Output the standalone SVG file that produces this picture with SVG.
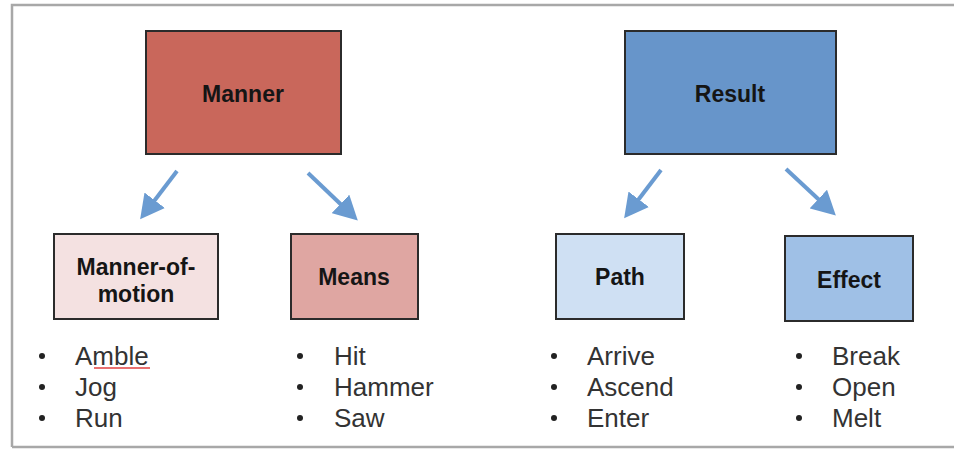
<svg xmlns="http://www.w3.org/2000/svg" width="954" height="450" viewBox="0 0 954 450">
<style>
.box{stroke:#2b2b2b;stroke-width:2}
.lbl{font-family:"Liberation Sans",Arial,sans-serif;font-weight:bold;font-size:23px;fill:#151515;text-anchor:middle}
.item{font-family:"Liberation Sans",Arial,sans-serif;font-size:26px;fill:#333}
.bul{fill:#222}
.arr{stroke:#6a9bd1;stroke-width:4;fill:none;marker-end:url(#ah)}
</style>
<defs>
<marker id="ah" markerWidth="6" markerHeight="6.4" refX="4" refY="3.2" orient="auto" markerUnits="strokeWidth">
<path d="M0,0 L6,3.2 L0,6.4 Z" fill="#6a9bd1"/>
</marker>
</defs>
<rect x="0" y="0" width="954" height="450" fill="#fff"/>
<path d="M12,447 L12,5 L960,5 M12,447 L960,447" fill="none" stroke="#a8a8a8" stroke-width="2.5"/>
<g id="manner">
<rect class="box" x="146" y="31" width="195" height="123" fill="#c9675b"/>
<text class="lbl" x="243" y="102">Manner</text>
</g>
<g id="result">
<rect class="box" x="625" y="31" width="211" height="123" fill="#6795ca"/>
<text class="lbl" x="730" y="102">Result</text>
</g>
<g id="manner-of-motion">
<rect class="box" x="54" y="234" width="164" height="85" fill="#f4e1e1"/>
<text class="lbl" x="136" y="275">Manner-of-</text>
<text class="lbl" x="136" y="302">motion</text>
<circle class="bul" cx="42" cy="356" r="3"/><text class="item" x="75" y="365">Amble</text>
<path d="M94,368 L150,368" fill="none" stroke="#e04040" stroke-width="1.6"/>
<circle class="bul" cx="42" cy="387" r="3"/><text class="item" x="75" y="396">Jog</text>
<circle class="bul" cx="42" cy="418" r="3"/><text class="item" x="75" y="427">Run</text>
</g>
<g id="means">
<rect class="box" x="291" y="234" width="127" height="85" fill="#dfa6a2"/>
<text class="lbl" x="354" y="285">Means</text>
<circle class="bul" cx="300" cy="356" r="3"/><text class="item" x="334" y="365">Hit</text>
<circle class="bul" cx="300" cy="387" r="3"/><text class="item" x="334" y="396">Hammer</text>
<circle class="bul" cx="300" cy="418" r="3"/><text class="item" x="334" y="427">Saw</text>
</g>
<g id="path">
<rect class="box" x="556" y="234" width="128" height="85" fill="#cfe0f3"/>
<text class="lbl" x="620" y="285">Path</text>
<circle class="bul" cx="554" cy="356" r="3"/><text class="item" x="587" y="365">Arrive</text>
<circle class="bul" cx="554" cy="387" r="3"/><text class="item" x="587" y="396">Ascend</text>
<circle class="bul" cx="554" cy="418" r="3"/><text class="item" x="587" y="427">Enter</text>
</g>
<g id="effect">
<rect class="box" x="785" y="236" width="128" height="85" fill="#9fc0e6"/>
<text class="lbl" x="849" y="288">Effect</text>
<circle class="bul" cx="799" cy="356" r="3"/><text class="item" x="832" y="365">Break</text>
<circle class="bul" cx="799" cy="387" r="3"/><text class="item" x="832" y="396">Open</text>
<circle class="bul" cx="799" cy="418" r="3"/><text class="item" x="832" y="427">Melt</text>
</g>
<g id="connectors">
<line class="arr" x1="177" y1="171" x2="145" y2="213"/>
<line class="arr" x1="308" y1="173" x2="352" y2="215"/>
<line class="arr" x1="661" y1="170" x2="629" y2="212"/>
<line class="arr" x1="786" y1="169" x2="830" y2="210"/>
</g>
</svg>
